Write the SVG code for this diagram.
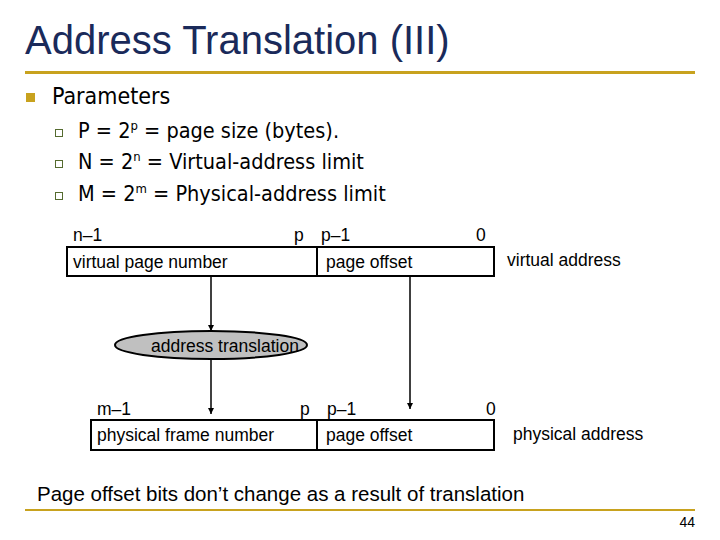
<svg xmlns="http://www.w3.org/2000/svg" width="720" height="540" viewBox="0 0 720 540">
<style>
.t{font-family:"DejaVu Sans",sans-serif;fill:#000}
.a{font-family:"Liberation Sans",Arial,sans-serif;fill:#000;font-size:17.5px}
.box{fill:#fff;stroke:#000;stroke-width:2}
.ln{stroke:#000;stroke-width:1.5;fill:none;marker-end:url(#ah)}
</style>
<defs><marker id="ah" viewBox="0 0 10 10" refX="10" refY="5" markerWidth="6" markerHeight="8" orient="auto" markerUnits="userSpaceOnUse"><path d="M0,0L10,5L0,10z" fill="#000"/></marker></defs>
<rect width="720" height="540" fill="#fff"/>
<text x="25" y="54" style="font-family:'Liberation Sans',Arial,sans-serif;font-size:40px;fill:#1a2a5a">Address Translation (III)</text>
<rect x="25" y="71" width="670" height="3" fill="#c8a21e"/>
<rect x="26" y="93" width="9" height="9" fill="#c8a21e"/>
<text class="t" x="52" y="104" font-size="23" style="font-family:'DejaVu Sans Condensed','DejaVu Sans',sans-serif">Parameters</text>
<g fill="none" stroke="#556b2f" stroke-width="1"><rect x="55.5" y="129.5" width="7" height="7"/><rect x="55.5" y="160.5" width="7" height="7"/><rect x="55.5" y="192.5" width="7" height="7"/></g>
<g class="t" font-size="21.5" style="font-family:'DejaVu Sans Condensed','DejaVu Sans',sans-serif">
<text x="78" y="138">P = 2<tspan font-size="13" dy="-8">p</tspan><tspan dy="8"> = page size (bytes).</tspan></text>
<text x="78" y="169">N = 2<tspan font-size="13" dy="-8">n</tspan><tspan dy="8"> = Virtual-address limit</tspan></text>
<text x="78" y="201">M = 2<tspan font-size="13" dy="-8">m</tspan><tspan dy="8"> = Physical-address limit</tspan></text>
</g>
<g id="virtual">
<rect class="box" x="67" y="247" width="250" height="29"/>
<rect class="box" x="317" y="247" width="177" height="29"/>
<text class="a" x="73" y="268">virtual page number</text>
<text class="a" x="326" y="268">page offset</text>
<text class="a" x="73" y="241">n–1</text>
<text class="a" x="294" y="241">p</text>
<text class="a" x="321" y="241">p–1</text>
<text class="a" x="476" y="241">0</text>
<text class="a" x="507" y="266">virtual address</text>
</g>
<g id="translation">
<ellipse cx="211" cy="345" rx="96" ry="14" fill="#c0c0c0" stroke="#000" stroke-width="2"/>
<text class="a" x="151" y="352">address translation</text>
</g>
<g id="physical">
<rect class="box" x="91" y="420" width="226" height="30"/>
<rect class="box" x="317" y="420" width="177" height="30"/>
<text class="a" x="97" y="441">physical frame number</text>
<text class="a" x="326" y="441">page offset</text>
<text class="a" x="97" y="415">m–1</text>
<text class="a" x="300" y="415">p</text>
<text class="a" x="327" y="415">p–1</text>
<text class="a" x="486" y="415">0</text>
<text class="a" x="513" y="440">physical address</text>
</g>
<g id="connectors">
<line class="ln" x1="211" y1="276" x2="211" y2="331"/>
<line class="ln" x1="211" y1="359" x2="211" y2="414"/>
<line class="ln" x1="410" y1="276" x2="410" y2="409"/>
</g>
<text class="a" x="37" y="501" style="font-size:20.5px">Page offset bits don’t change as a result of translation</text>
<rect x="25" y="509" width="670" height="2" fill="#c8a21e"/>
<text class="a" x="695" y="527" text-anchor="end" style="font-size:14px">44</text>
</svg>
